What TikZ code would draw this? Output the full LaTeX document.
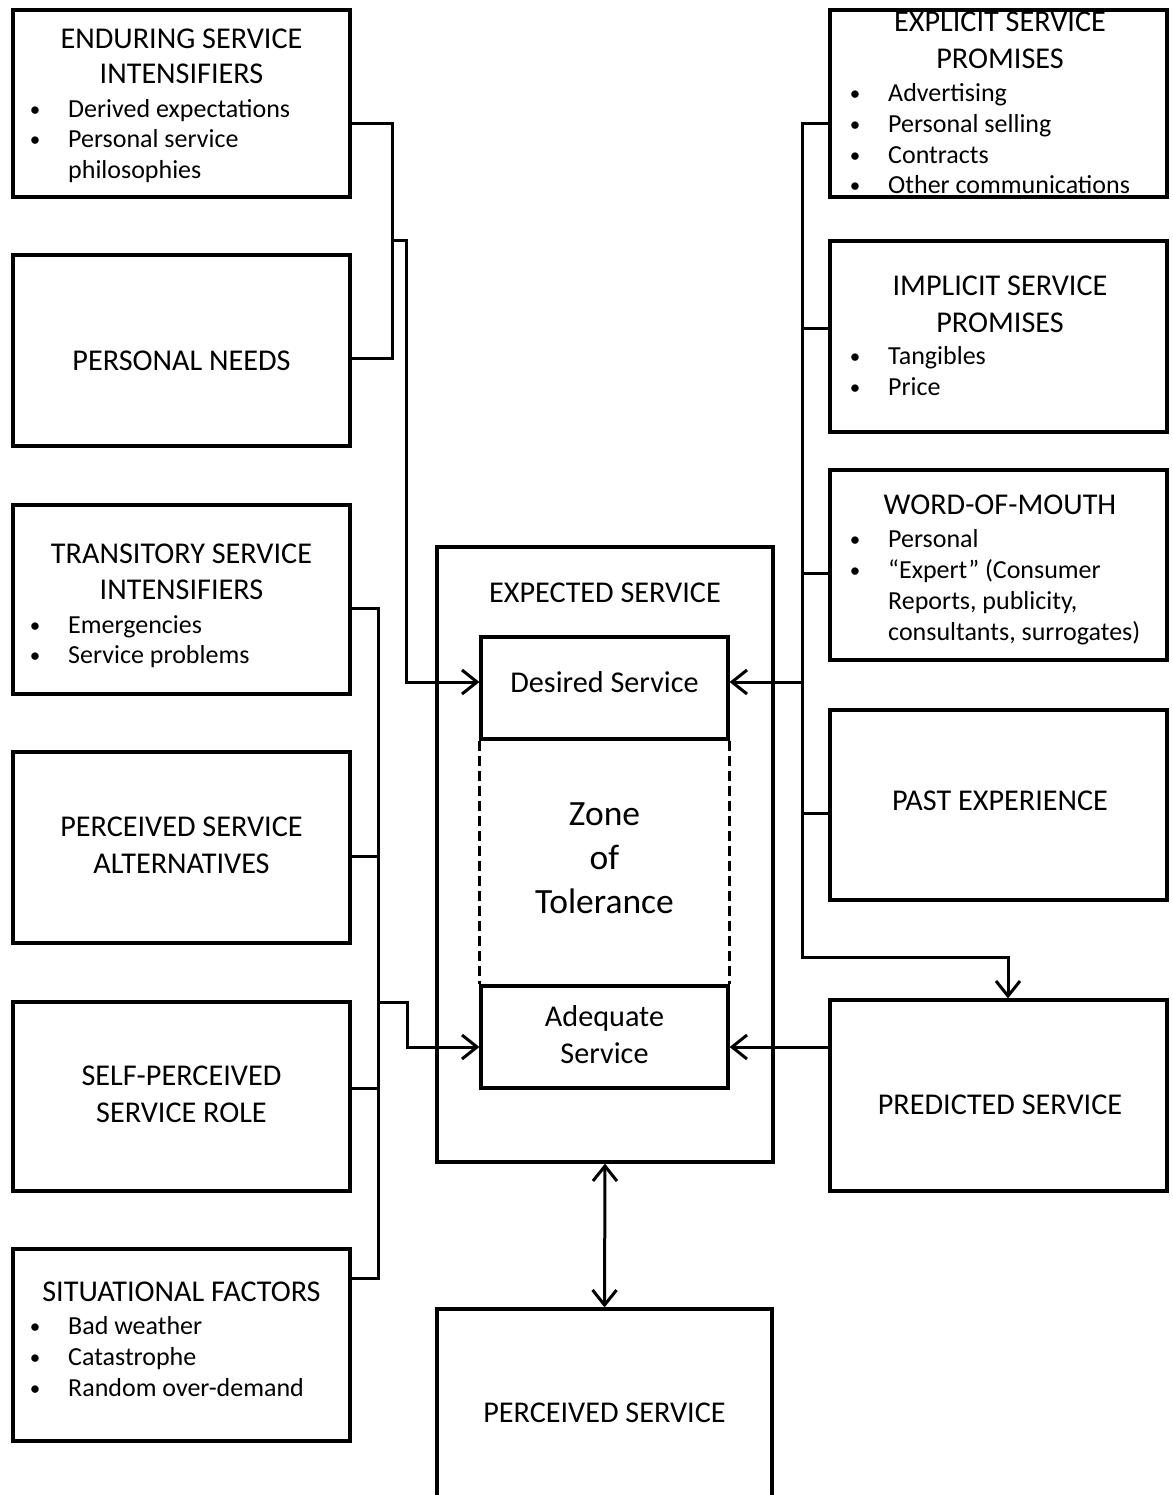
\documentclass[tikz,border=0pt]{standalone}
\usepackage{fontspec}
\setmainfont{Carlito}
\usetikzlibrary{arrows.meta}

% one bullet item: bullet glyph plus its text, on a common baseline
\newcommand\bulletitem[4]{%
  \node[dot] (#1d) at (#2,#3-1) {•};
  \node[item] (#1) at (#2+33,#3) {#4};}

\begin{document}
\begin{tikzpicture}[x=1pt,y=-1pt,
  box/.style={draw, line width=3.2pt, rectangle, inner sep=0pt},
  conn/.style={line width=3pt},
  feed/.style={line width=3pt, -{Straight Barb[length=15pt,width=24pt,line width=3pt]}},
  feedboth/.style={line width=3pt, {Straight Barb[length=15pt,width=24pt,line width=3pt]}-{Straight Barb[length=15pt,width=24pt,line width=3pt]}},
  hd/.style={anchor=base, inner sep=0pt, font=\fontsize{30.2}{36}\selectfont},
  zone/.style={anchor=base, inner sep=0pt, font=\fontsize{35.5}{44}\selectfont},
  item/.style={anchor=base west, inner sep=0pt, font=\fontsize{26}{31}\selectfont},
  dot/.style={anchor=base, inner sep=0pt, font=\fontsize{21}{31}\selectfont},
]
\useasboundingbox (0,0) rectangle (1172,1495);
\fill[white] (0,0) rectangle (1172,1495);

% ---------- left column: factors of desired and adequate service ----------
\node[box, minimum width=337pt, minimum height=187pt] (enduring)     at (181.5,103.5) {};
\node[box, minimum width=337pt, minimum height=191pt] (needs)        at (181.5,350.5) {};
\node[box, minimum width=337pt, minimum height=189pt] (transitory)   at (181.5,599.5) {};
\node[box, minimum width=337pt, minimum height=191pt] (alternatives) at (181.5,847.5) {};
\node[box, minimum width=337pt, minimum height=189pt] (role)         at (181.5,1096.5) {};
\node[box, minimum width=337pt, minimum height=192pt] (situational)  at (181.5,1345) {};

% ---------- right column: promises, word of mouth, experience ----------
\node[box, minimum width=337pt, minimum height=187pt] (explicit)  at (998.5,103.5) {};
\node[box, minimum width=337pt, minimum height=191pt] (implicit)  at (998.5,336.5) {};
\node[box, minimum width=337pt, minimum height=190pt] (wom)       at (998.5,565) {};
\node[box, minimum width=337pt, minimum height=190pt] (past)      at (998.5,805) {};
\node[box, minimum width=337pt, minimum height=191pt] (predicted) at (998.5,1095.5) {};

% ---------- centre: expected and perceived service ----------
\node[box, minimum width=336pt, minimum height=615pt] (expected)  at (605,854.5) {};
\node[box, minimum width=247pt, minimum height=102pt] (desired)   at (604.5,688) {};
\node[box, minimum width=247pt, minimum height=102pt] (adequate)  at (604.5,1037) {};
\node[box, minimum width=335pt, minimum height=200pt] (perceived) at (604.5,1409) {};
\draw[line width=3pt, dash pattern=on 10pt off 5pt] (desired.south west) -- (adequate.north west);
\draw[line width=3pt, dash pattern=on 10pt off 5pt] (desired.south east) -- (adequate.north east);

% ---------- texts, left ----------
\node[hd] (tEnd1) at (181.5,49) {ENDURING SERVICE};
\node[hd] (tEnd2) at (181.5,84) {INTENSIFIERS};
\bulletitem{bEnd1}{35}{118}{Derived expectations}
\bulletitem{bEnd2}{35}{148}{Personal service}
\node[item] (bEnd3) at (68,179) {philosophies};

\node[hd] (tNeeds) at (181.5,370) {PERSONAL NEEDS};

\node[hd] (tTra1) at (181.5,563) {TRANSITORY SERVICE};
\node[hd] (tTra2) at (181.5,599) {INTENSIFIERS};
\bulletitem{bTra1}{35}{633}{Emergencies}
\bulletitem{bTra2}{35}{663}{Service problems}

\node[hd] (tAlt1) at (181.5,836) {PERCEIVED SERVICE};
\node[hd] (tAlt2) at (181.5,873) {ALTERNATIVES};

\node[hd] (tRole1) at (181.5,1085) {SELF-PERCEIVED};
\node[hd] (tRole2) at (181.5,1122) {SERVICE ROLE};

\node[hd] (tSit) at (181.5,1301) {SITUATIONAL FACTORS};
\bulletitem{bSit1}{35}{1334}{Bad weather}
\bulletitem{bSit2}{35}{1365}{Catastrophe}
\bulletitem{bSit3}{35}{1396}{Random over-demand}

% ---------- texts, right ----------
\node[hd] (tExp1) at (1000,32) {EXPLICIT SERVICE};
\node[hd] (tExp2) at (1000,69) {PROMISES};
\bulletitem{bExp1}{855}{102}{Advertising}
\bulletitem{bExp2}{855}{133}{Personal selling}
\bulletitem{bExp3}{855}{164}{Contracts}
\bulletitem{bExp4}{855}{194}{Other communications}

\node[hd] (tImp1) at (1000,295) {IMPLICIT SERVICE};
\node[hd] (tImp2) at (1000,332) {PROMISES};
\bulletitem{bImp1}{855}{364}{Tangibles}
\bulletitem{bImp2}{855}{395}{Price}

\node[hd] (tWom) at (1000,514) {WORD-OF-MOUTH};
\bulletitem{bWom1}{855}{547}{Personal}
\bulletitem{bWom2}{855}{578}{“Expert” (Consumer}
\node[item] (bWom3) at (888,609) {Reports, publicity,};
\node[item] (bWom4) at (888,640) {consultants, surrogates)};

\node[hd] (tPast) at (1000,810) {PAST EXPERIENCE};
\node[hd] (tPred) at (1000,1114) {PREDICTED SERVICE};

% ---------- texts, centre ----------
\node[hd] (tExpd) at (605,602) {EXPECTED SERVICE};
\node[hd] (tDes) at (604.5,692) {Desired Service};
\node[zone] (tZone1) at (604.5,825) {Zone};
\node[zone] (tZone2) at (604.5,869) {of};
\node[zone] (tZone3) at (604.5,913) {Tolerance};
\node[hd] (tAde1) at (604.5,1026) {Adequate};
\node[hd] (tAde2) at (604.5,1063) {Service};
\node[hd] (tPerc) at (604.5,1422) {PERCEIVED SERVICE};

% ---------- connectors, left ----------
\coordinate (jEN)  at (392,241);
\coordinate (jEN2) at (406,241);
\draw[conn] (enduring.east |- 0,124) -| (jEN) |- (needs.east |- 0,358);
\draw[feed] (jEN) -- (jEN2) |- (desired.west |- 0,682);

\coordinate (jL)  at (378,1002);
\coordinate (jL2) at (407,1002);
\draw[conn] (transitory.east |- 0,608) -| (jL) |- (situational.east |- 0,1278);
\draw[conn] (alternatives.east |- 0,856) -- (jL |- 0,856);
\draw[conn] (role.east |- 0,1088) -- (jL |- 0,1088);
\draw[feed] (jL) -- (jL2) |- (adequate.west |- 0,1047);

% ---------- connectors, right ----------
\coordinate (jR)  at (802,682);
\coordinate (jR3) at (1008,957);
\draw[feed] (explicit.west |- 0,124) -| (jR) |- (jR3) -- (predicted.north -| jR3);
\draw[conn] (implicit.west |- 0,328) -- (jR |- 0,328);
\draw[conn] (wom.west |- 0,573) -- (jR |- 0,573);
\draw[conn] (past.west |- 0,813) -- (jR |- 0,813);
\draw[feed] (jR) -- (desired.east |- jR);
\draw[feed] (predicted.west |- 0,1047) -- (adequate.east |- 0,1047);

% ---------- expected <-> perceived ----------
\draw[feedboth] (expected.south) -- (perceived.north);
\end{tikzpicture}
\end{document}
